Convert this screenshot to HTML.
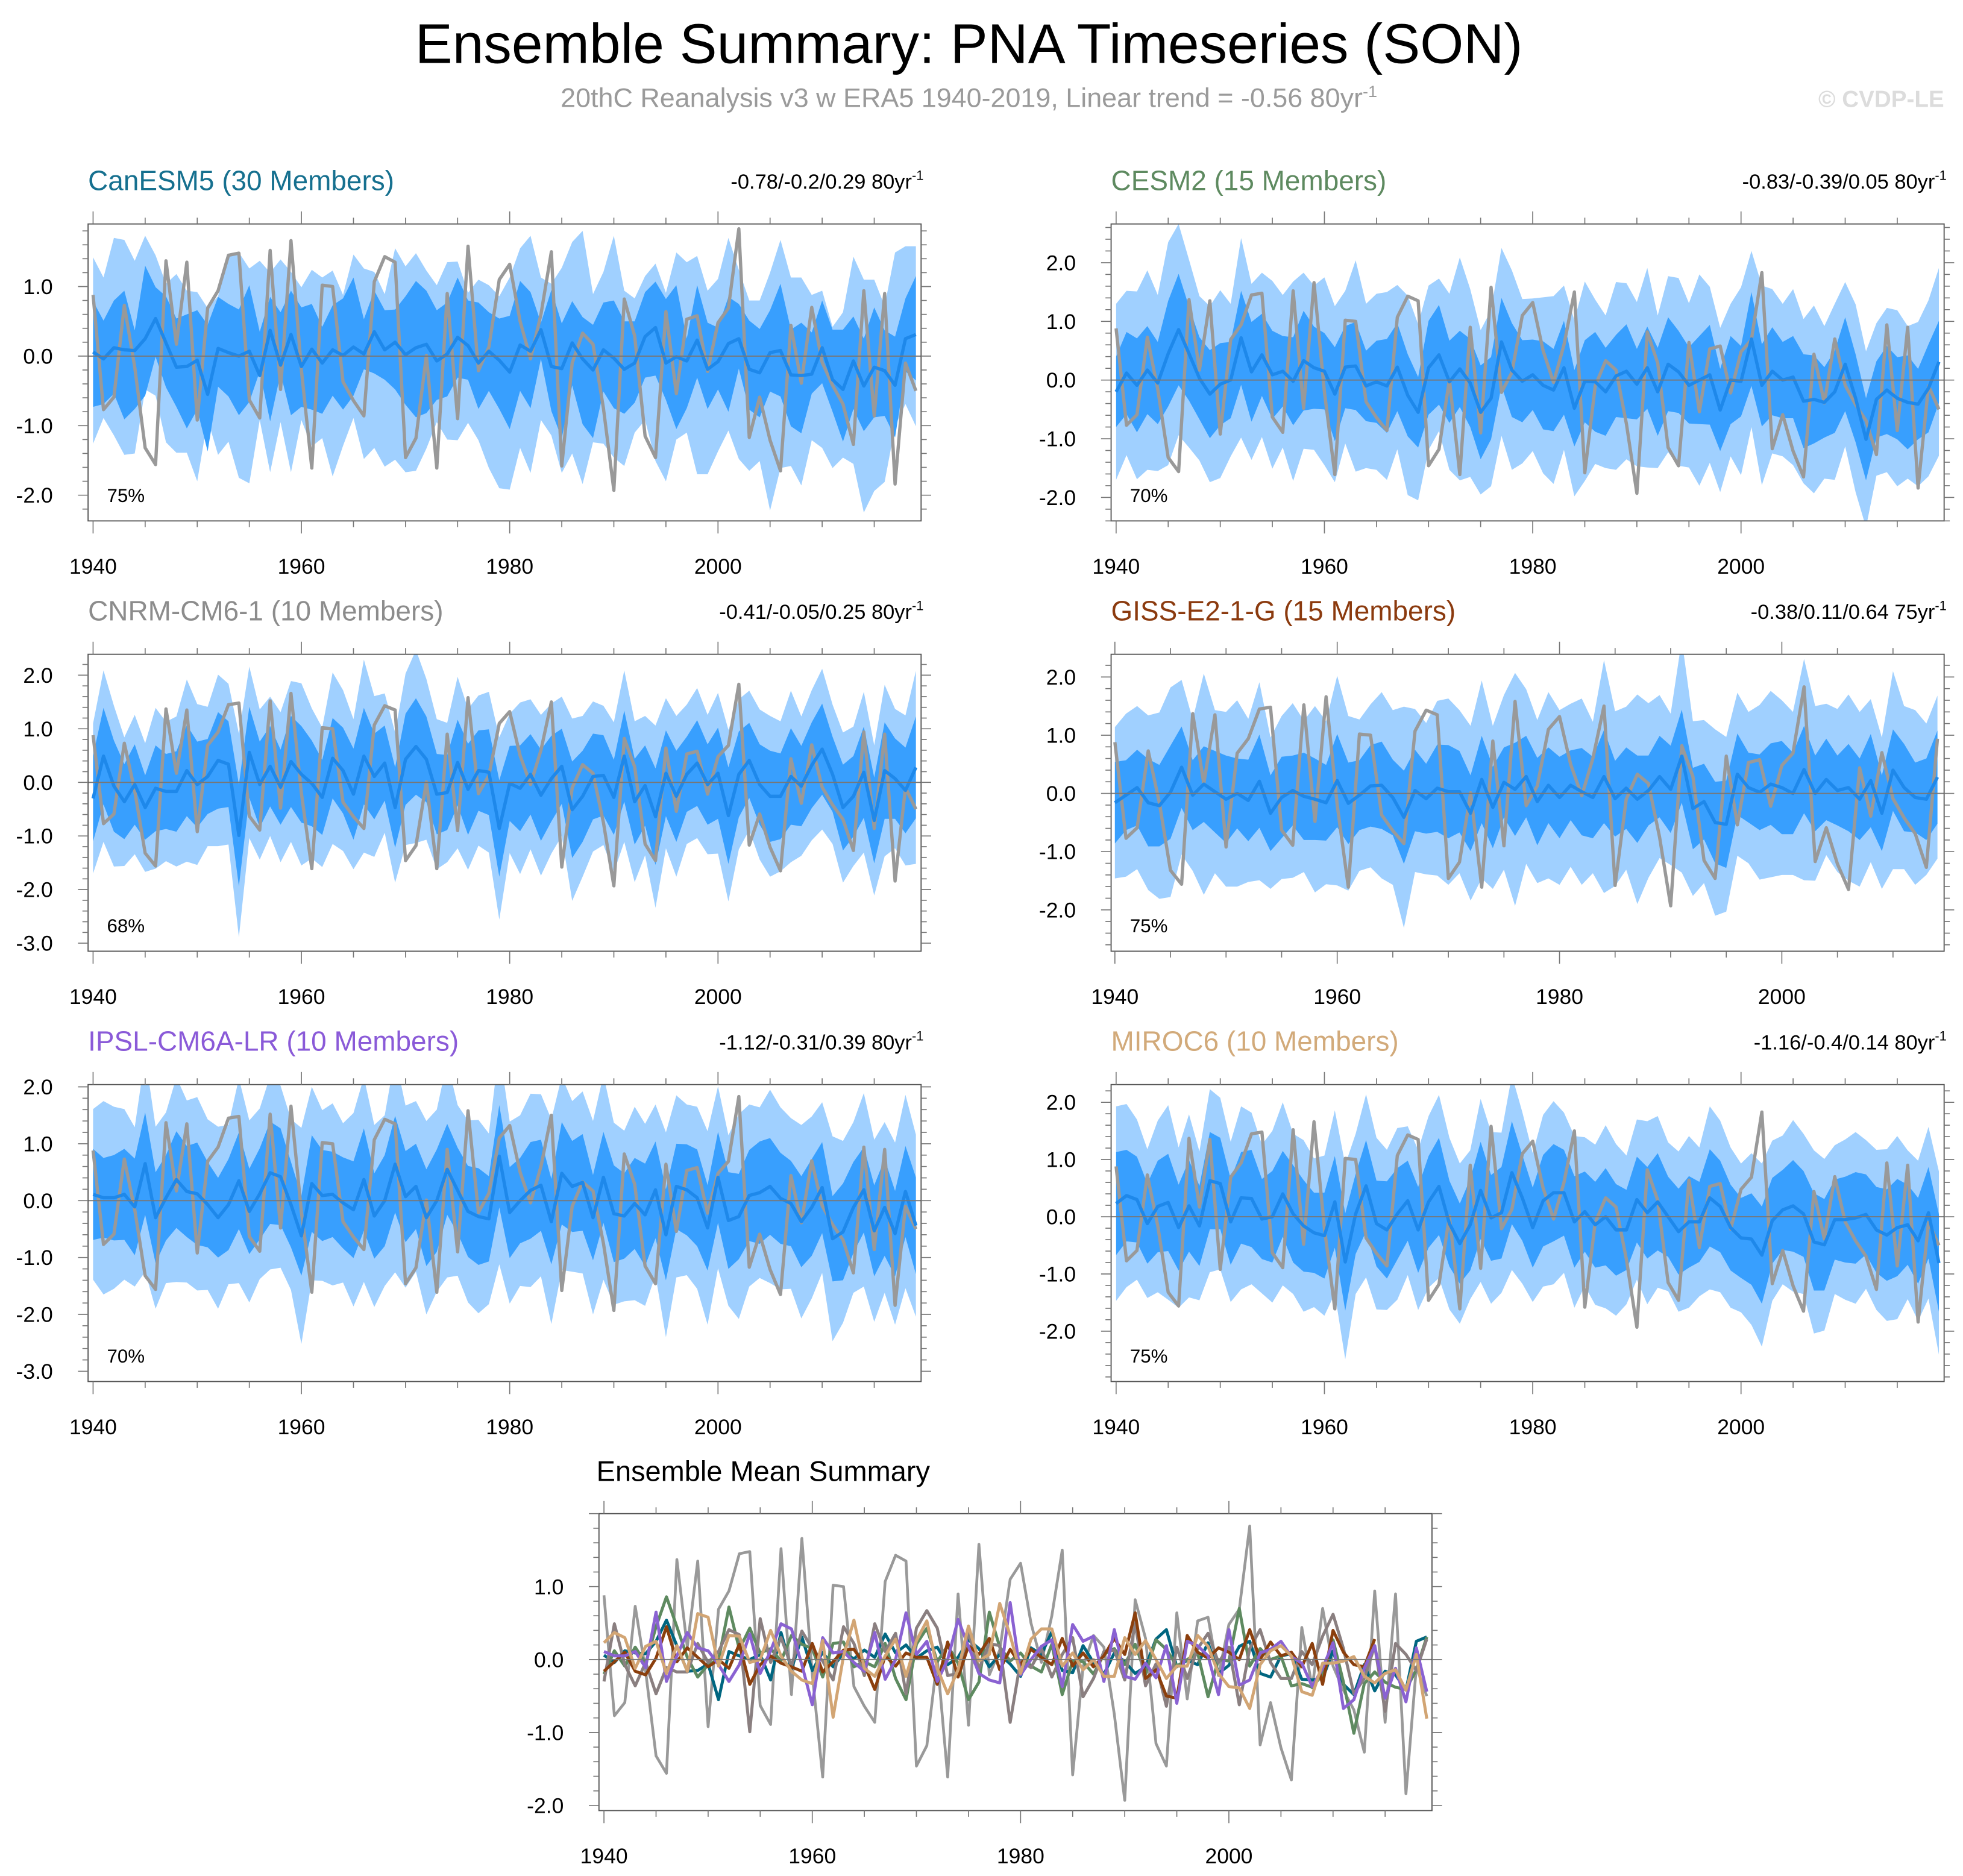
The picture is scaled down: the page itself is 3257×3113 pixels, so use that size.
<!DOCTYPE html>
<html><head><meta charset="utf-8"><title>Ensemble Summary: PNA Timeseries (SON)</title>
<style>
html,body{margin:0;padding:0;background:#fff;}
svg{display:block;font-family:"Liberation Sans",Arial,sans-serif;}
</style></head>
<body>
<svg id="fig" width="3257" height="3113" viewBox="0 0 1560 1491" preserveAspectRatio="none" xmlns="http://www.w3.org/2000/svg">
<rect x="0" y="0" width="1560" height="1491" fill="#fff"/>
<text x="770" y="50" text-anchor="middle" font-size="44.5" fill="#000">Ensemble Summary: PNA Timeseries (SON)</text>
<text x="770" y="85" text-anchor="middle" font-size="21.5" fill="#9a9a9a">20thC Reanalysis v3 w ERA5 1940-2019, Linear trend = -0.56 80yr<tspan dy="-8" font-size="13">-1</tspan></text>
<text x="1545" y="85" text-anchor="end" font-size="18.5" font-weight="bold" fill="#dcdcdc">© CVDP-LE</text>
<g id="panels"></g>
</svg>
<script>
// ---- data ----
const years = [];
for (let y = 1940; y <= 2019; y++) years.push(y);
const obs = [0.88,-0.77,-0.59,0.73,-0.16,-1.32,-1.56,1.37,0.17,1.35,-0.92,0.69,0.94,1.45,1.48,-0.63,-0.89,1.52,-0.48,1.66,-0.2,-1.61,1.02,1.0,-0.37,-0.64,-0.86,1.07,1.43,1.35,-1.46,-1.18,0.01,-1.61,0.9,-0.9,1.58,-0.21,0.13,1.1,1.32,0.5,-0.04,0.6,1.5,-1.58,-0.1,0.33,0.17,-0.75,-1.93,0.82,0.29,-1.15,-1.46,0.64,-0.54,0.53,0.58,-0.22,0.48,0.69,1.83,-1.17,-0.59,-1.21,-1.65,0.44,-0.39,0.7,-0.09,-0.42,-0.69,-1.27,0.94,-0.86,0.9,-1.84,-0.1,-0.5];

const canMean = [0.06,-0.04,0.12,0.09,0.08,0.25,0.54,0.19,-0.16,-0.15,-0.06,-0.55,0.11,0.05,0,0.07,-0.28,0.37,-0.13,0.31,-0.15,0.1,-0.1,0.09,0.01,0.13,0.03,0.35,0.09,0.2,0.02,0.12,0.17,-0.07,0.03,0.27,0.15,-0.1,0.07,-0.06,-0.23,0.16,0.07,0.38,-0.15,-0.18,0.19,-0.04,-0.2,0.09,-0.03,-0.19,-0.1,0.28,0.41,-0.1,-0.01,-0.07,0.23,-0.19,-0.08,0.18,0.25,-0.19,-0.24,0.05,0.08,-0.27,-0.28,-0.26,0.12,-0.34,-0.48,-0.07,-0.43,-0.16,-0.21,-0.42,0.25,0.31];
const canDarkHi = [0.79,0.51,0.8,0.94,0.37,1.3,0.99,0.86,0.54,0.6,0.66,0.45,0.85,0.75,0.67,1.02,0.35,0.85,0.63,0.94,0.7,0.75,0.42,0.73,0.83,1.13,0.53,0.94,0.66,0.67,0.86,1.08,0.94,0.66,0.77,1.13,0.8,0.77,0.63,0.54,0.58,1.08,0.92,0.48,0.95,0.47,0.79,0.56,0.45,0.77,0.8,0.5,0.5,0.92,1.07,0.82,1.02,0.25,1.02,0.48,0.41,0.85,0.75,0.51,0.39,0.66,1.04,0.38,0.48,0.34,0.8,0.38,0.38,0.57,0.25,0.7,0.37,0.28,0.83,1.15];
const canDarkLo = [-0.73,-0.69,-0.54,-0.91,-0.76,-0.57,-0.01,-0.45,-0.73,-1.04,-0.77,-1.37,-0.44,-0.58,-0.85,-0.66,-0.22,-0.94,-0.25,-0.85,-0.73,-0.77,-0.83,-0.57,-0.77,-0.57,-0.19,-0.25,-0.34,-0.48,-0.7,-0.88,-0.82,-0.63,-0.58,-0.31,-0.34,-0.76,-0.5,-0.76,-1.05,-0.5,-0.75,-0.04,-0.79,-1.18,-0.42,-0.98,-1.18,-0.51,-0.75,-0.83,-0.67,-0.31,-0.28,-0.63,-1.05,-0.75,-0.31,-0.76,-0.48,-0.8,-0.18,-0.77,-0.88,-0.51,-0.58,-1.01,-1.11,-0.54,-0.39,-0.8,-1.23,-0.76,-1.08,-0.88,-0.86,-1.17,-0.22,-0.35];
const canLightHi = [1.42,1.13,1.7,1.67,1.37,1.73,1.45,1.04,1.18,0.94,0.92,0.69,0.86,1.45,1.49,1.26,1.37,1.2,1.39,1.21,0.99,1.24,1.13,1.23,0.88,1.46,1.26,1.21,0.89,1.55,1.29,1.48,1.23,1.02,1.35,1.36,0.91,1.1,1.02,0.86,1.13,1.55,1.73,1.13,1.04,1.27,1.64,1.8,0.89,1.21,1.73,0.94,0.83,1.15,1.33,0.91,1.49,1.35,1.44,0.94,1.11,1.7,1.24,0.8,0.8,1.2,1.67,1.13,1.13,0.88,0.94,0.42,0.63,1.43,1.1,1.1,0.72,1.49,1.58,1.58];
const canLightLo = [-1.26,-0.89,-1.14,-1.42,-1.4,-0.48,-0.57,-1.24,-1.39,-1.39,-1.8,-0.91,-1.42,-1.23,-1.75,-1.83,-0.92,-1.67,-0.95,-1.67,-0.92,-1.3,-1.18,-1.73,-1.29,-0.89,-1.48,-1.32,-1.59,-1.49,-1.67,-1.65,-1.33,-0.95,-1.2,-1.21,-0.96,-1.21,-1.61,-1.9,-1.92,-1.32,-1.68,-0.92,-1.14,-1.68,-1.4,-1.84,-1.24,-1.26,-1.46,-1.58,-1.1,-0.92,-1.51,-1.8,-1.2,-1.1,-1.7,-1.7,-1.37,-1.07,-1.48,-1.65,-1.51,-2.22,-1.61,-1.58,-1.86,-1.21,-1.32,-1.61,-1.46,-1.55,-2.25,-1.94,-1.81,-1.01,-0.69,-1.01];

const cesmMean = [-0.2,0.12,-0.09,0.17,-0.05,0.45,0.86,0.45,0.03,-0.24,-0.07,0,0.72,0.14,0.43,0.09,0.15,-0.02,0.33,0.21,0.15,-0.24,0.22,0.24,-0.1,-0.03,-0.1,0.22,-0.26,-0.55,0.21,0.43,-0.03,0.19,-0.05,-0.55,-0.31,0.65,0.17,-0.02,0.09,-0.09,-0.17,0.21,-0.48,-0.02,-0.03,-0.2,0.07,0.15,-0.07,0.21,-0.2,0.27,0.14,-0.09,0,0.09,-0.51,0,-0.02,0.7,-0.09,0.15,0,0.05,-0.36,-0.33,-0.38,-0.2,0.27,-0.31,-1.01,-0.33,-0.17,-0.31,-0.38,-0.41,-0.14,0.31];
const cesmInner = [0.6,0.7,0.8,0.75,0.7,0.9,0.95,0.8,0.7,0.75,0.7,0.65,0.8,0.85,0.7,0.75,0.6,0.75,0.85,0.7,0.65,0.8,0.7,0.75,0.6,0.7,0.8,0.75,0.7,0.6,0.8,0.85,0.7,0.65,0.75,0.8,0.7,0.75,0.8,0.7,0.6,0.75,0.7,0.8,0.65,0.7,0.85,0.75,0.7,0.8,0.6,0.7,0.75,0.8,0.7,0.65,0.75,0.85,0.7,0.75,0.6,0.8,0.7,0.75,0.65,0.7,0.8,0.75,0.6,0.7,0.8,0.75,0.7,0.65,0.75,0.7,0.8,0.6,0.75,0.7];
const cesmOuter = [1.5,1.4,1.6,1.7,1.5,1.9,1.8,1.6,1.4,1.5,1.6,1.3,1.7,1.5,1.4,1.6,1.3,1.7,1.5,1.4,1.6,1.5,1.3,1.8,1.4,1.5,1.6,1.4,1.7,1.5,1.4,1.3,1.5,1.9,1.6,1.4,1.5,1.6,1.7,1.4,1.3,1.5,1.6,1.4,1.5,1.7,1.4,1.3,1.6,1.5,1.4,1.7,1.3,1.5,1.6,1.4,1.8,1.5,1.4,1.3,1.6,1.5,1.7,1.4,1.3,1.5,1.4,1.6,1.3,1.5,1.4,1.6,1.5,1.3,1.4,1.5,1.3,1.4,1.5,1.6];

const cnrmMean = [-0.3,0.49,-0.07,-0.36,-0.04,-0.47,-0.11,-0.17,-0.17,0.22,-0.04,0.11,0.41,0.34,-0.99,0.56,-0.04,0.3,-0.09,0.39,0.15,-0.02,-0.28,0.45,0.22,-0.22,0.49,0.11,0.36,-0.47,0.43,0.67,0.43,-0.22,-0.19,0.37,-0.13,0.22,0.19,-0.86,-0.02,-0.11,0.15,-0.24,0.07,0.3,-0.51,-0.26,0.11,0.13,-0.28,0.49,-0.36,-0.06,-0.64,0.17,-0.26,0.15,0.36,-0.04,0.17,-0.62,0.15,0.41,-0.04,-0.26,-0.26,0.11,-0.07,0.32,0.62,0.15,-0.47,-0.26,0.19,-0.71,0.22,0.07,-0.15,0.28];
const cnrmInner = [0.8,0.9,0.85,0.7,0.75,0.6,0.8,0.7,0.75,0.85,0.8,0.7,0.9,0.8,0.95,0.85,0.8,0.75,0.7,0.85,0.9,0.8,0.7,0.75,0.8,0.85,0.9,0.8,0.7,0.75,0.85,0.9,0.8,0.75,0.7,0.8,0.85,0.75,0.8,0.9,0.7,0.8,0.75,0.85,0.8,0.7,0.9,0.85,0.8,0.75,0.7,0.85,0.8,0.75,0.9,0.8,0.85,0.7,0.8,0.75,0.85,0.9,0.8,0.7,0.75,0.85,0.8,0.9,0.75,0.8,0.85,0.7,0.8,0.75,0.85,0.8,0.9,0.75,0.8,0.95];
const cnrmOuter = [1.4,1.6,1.5,1.2,1.3,1.2,1.5,1.3,1.4,1.7,1.5,1.3,1.6,1.5,1.9,1.6,1.4,1.3,1.4,1.5,1.7,1.4,1.3,1.6,1.5,1.4,1.8,1.5,1.3,1.4,1.6,1.8,1.5,1.4,1.3,1.6,1.5,1.4,1.5,1.7,1.3,1.6,1.4,1.5,1.4,1.3,1.7,1.5,1.4,1.3,1.4,1.6,1.5,1.3,1.7,1.4,1.5,1.3,1.4,1.3,1.5,1.6,1.4,1.3,1.4,1.5,1.4,1.6,1.3,1.4,1.5,1.3,1.4,1.3,1.5,1.4,1.6,1.3,1.4,1.8];

const gissMean = [-0.16,-0.03,0.1,-0.16,-0.21,0.02,0.45,-0.03,0.16,0.03,-0.1,0,-0.12,0.21,-0.34,-0.07,0.05,-0.05,-0.1,-0.16,0.22,-0.17,-0.03,0.13,0.14,-0.07,-0.41,0.05,-0.09,0.09,0.03,0.03,-0.34,0.24,-0.24,0.19,0.07,0.29,-0.14,0.14,-0.07,0.14,0.03,-0.07,0.29,-0.09,0.09,-0.1,0.05,0.29,0.07,0.64,-0.26,-0.14,-0.5,-0.53,0.33,0.1,0.02,0.16,0.1,0,0.41,0,0.24,0.05,0.1,-0.1,0.22,-0.34,0.4,0.1,-0.07,-0.1,0.28];
const gissInner = [0.7,0.6,0.65,0.75,0.7,0.8,0.7,0.6,0.65,0.7,0.75,0.6,0.7,0.8,0.65,0.7,0.6,0.75,0.7,0.65,0.8,0.7,0.6,0.7,0.75,0.65,0.8,0.7,0.6,0.75,0.8,0.7,0.65,0.75,0.7,0.6,0.8,0.7,0.75,0.65,0.7,0.6,0.75,0.7,0.8,0.65,0.7,0.75,0.6,0.7,0.75,0.8,0.7,0.65,0.7,0.75,0.7,0.6,0.65,0.7,0.8,0.7,0.75,0.65,0.7,0.6,0.75,0.7,0.8,0.65,0.7,0.75,0.6,0.7,0.8];
const gissOuter = [1.3,1.4,1.4,1.5,1.6,1.8,1.5,1.3,1.9,1.4,1.5,1.6,1.4,1.7,1.3,1.4,1.5,1.3,1.6,1.4,1.8,1.5,1.3,1.4,1.6,1.5,1.9,1.4,1.3,1.5,1.6,1.4,1.5,1.7,1.4,1.5,2.0,1.5,1.4,1.6,1.5,1.4,1.6,1.3,2.0,1.5,1.4,1.8,1.5,1.4,1.3,2.0,1.5,1.4,1.6,1.5,1.4,1.3,1.5,1.6,1.5,1.4,1.9,1.5,1.3,1.4,1.6,1.5,1.4,1.3,1.7,1.4,1.5,1.3,1.4];

const ipslMean = [0.11,0.05,0.05,0.11,-0.11,0.65,-0.3,0.05,0.37,0.16,0.12,-0.07,-0.3,-0.07,0.35,-0.19,0.12,0.49,0.42,-0.07,-0.62,0.3,0.09,0.11,-0.04,-0.16,0.37,-0.27,0,0.64,0.07,0.25,-0.3,0,0.55,0.18,-0.19,-0.28,-0.32,0.78,-0.21,0,0.18,0.27,-0.37,0.48,0.25,0.32,-0.3,0.41,-0.23,-0.27,-0.05,-0.25,0.19,-0.6,0.25,0.19,0.05,-0.48,0.41,-0.35,-0.28,0.09,0.14,0.25,0.04,-0.05,-0.37,-0.12,0.23,-0.67,-0.55,-0.12,0.19,-0.53,-0.12,-0.58,0.16,-0.44];
const ipslInner = [0.8,0.7,0.75,0.8,0.85,0.9,0.8,0.75,0.85,0.8,0.9,0.75,0.7,0.8,0.85,0.75,0.8,0.9,0.85,0.75,0.7,0.85,0.8,0.75,0.8,0.85,0.9,0.75,0.8,0.85,0.8,0.75,0.85,0.9,0.8,0.75,0.8,0.85,0.75,0.9,0.8,0.75,0.85,0.8,0.75,0.9,0.8,0.85,0.75,0.8,0.85,0.75,0.8,0.9,0.85,0.8,0.75,0.8,0.85,0.75,0.8,0.85,0.75,0.8,0.9,0.85,0.8,0.75,0.8,0.85,0.8,0.75,0.85,0.8,0.75,0.8,0.85,0.75,0.8,0.85];
const ipslOuter = [1.5,1.7,1.6,1.5,1.4,1.9,1.6,1.5,1.8,1.6,1.7,1.5,1.6,1.4,1.8,1.6,1.5,1.7,1.6,1.5,1.9,1.7,1.5,1.6,1.4,1.7,1.8,1.6,1.5,1.9,1.6,1.5,1.7,1.6,1.9,1.5,1.6,1.7,1.5,1.9,1.6,1.5,1.7,1.6,1.8,1.7,1.5,1.6,1.7,1.8,1.6,1.5,1.7,1.6,1.5,1.8,1.6,1.5,1.6,1.7,1.6,1.5,1.8,1.6,1.5,1.7,1.6,1.5,1.7,1.6,1.5,1.8,1.6,1.5,1.7,1.6,1.5,1.6,1.7,1.6];

const mirocMean = [0.23,0.37,0.3,-0.12,0.18,0.25,-0.19,0.19,-0.16,0.63,0.58,-0.09,0.33,0.32,-0.04,0,0.4,0.05,-0.16,-0.28,-0.33,0.26,-0.79,0.05,0.54,-0.12,-0.23,0.05,0.28,-0.23,0.26,0.53,-0.12,-0.47,-0.14,0.46,-0.02,0.07,0.77,0.33,-0.19,0.28,0.42,0.42,-0.09,0.09,-0.14,0,-0.23,-0.23,0.3,0.07,0.26,0,-0.26,-0.09,-0.09,0.33,0.18,-0.19,-0.37,-0.39,-0.67,-0.07,0.12,0.19,0.05,-0.44,-0.49,-0.05,-0.05,-0.02,0.04,-0.23,-0.32,-0.19,-0.14,-0.42,0.07,-0.81];
const mirocInner = [0.9,0.8,0.75,0.7,0.8,0.85,0.75,0.8,0.7,0.85,0.8,0.75,0.8,0.85,0.7,0.8,0.75,0.85,0.8,0.7,0.75,0.8,0.85,0.7,0.8,0.75,0.85,0.8,0.7,0.75,0.8,0.85,0.75,0.7,0.8,0.85,0.75,0.8,0.9,0.75,0.7,0.8,0.85,0.75,0.8,0.7,0.75,0.85,0.8,0.7,0.75,0.8,0.85,0.7,0.75,0.8,0.7,0.85,0.8,0.75,0.7,0.8,0.85,0.75,0.7,0.8,0.75,0.85,0.8,0.7,0.75,0.8,0.7,0.75,0.8,0.85,0.7,0.75,0.8,0.85];
const mirocOuter = [1.7,1.6,1.4,1.3,1.5,1.7,1.4,1.6,1.3,1.6,1.5,1.4,1.6,1.5,1.3,1.5,1.6,1.4,1.5,1.3,1.4,1.6,1.7,1.4,1.6,1.5,1.4,1.5,1.3,1.4,1.5,1.6,1.5,1.4,1.3,1.6,1.5,1.4,1.7,1.5,1.3,1.5,1.6,1.4,1.5,1.3,1.4,1.6,1.5,1.3,1.4,1.6,1.5,1.3,1.4,1.5,1.3,1.6,1.5,1.4,1.3,1.5,1.6,1.4,1.3,1.5,1.4,1.6,1.5,1.3,1.4,1.5,1.3,1.4,1.5,1.6,1.3,1.4,1.5,1.6];

const yLabels1 = [1.0,0.0,-1.0,-2.0];
const yLabels2 = [2.0,1.0,0.0,-1.0,-2.0];
const yLabels3 = [2.0,1.0,0.0,-1.0,-2.0,-3.0];
const xLabels = [1940,1960,1980,2000];

const panels = [
 {key:'canesm5',x0:70,y0:178,xmin:1939.52,xmax:2019.5,ymin:-2.37,ymax:1.9,yl:yLabels1,title:'CanESM5 (30 Members)',tc:'#16708f',lc:'#006680',trend:'-0.78/-0.2/0.29 80yr',pct:'75%',mean:canMean,dHi:canDarkHi,dLo:canDarkLo,lHi:canLightHi,lLo:canLightLo},
 {key:'cesm2',x0:883,y0:178,xmin:1939.52,xmax:2019.5,ymin:-2.4,ymax:2.66,yl:yLabels2,title:'CESM2 (15 Members)',tc:'#5e8a60',lc:'#5e8a60',trend:'-0.83/-0.39/0.05 80yr',pct:'70%',mean:cesmMean,inner:cesmInner,outer:cesmOuter},
 {key:'cnrm-cm6-1',x0:70,y0:520,xmin:1939.52,xmax:2019.5,ymin:-3.15,ymax:2.39,yl:yLabels3,title:'CNRM-CM6-1 (10 Members)',tc:'#8c8c8c',lc:'#8a7f80',trend:'-0.41/-0.05/0.25 80yr',pct:'68%',mean:cnrmMean,inner:cnrmInner,outer:cnrmOuter},
 {key:'giss-e2-1-g',x0:883,y0:520,xmin:1939.66,xmax:2014.6,ymin:-2.71,ymax:2.39,yl:yLabels2,title:'GISS-E2-1-G (15 Members)',tc:'#8b3a0e',lc:'#8b3f0d',trend:'-0.38/0.11/0.64 75yr',pct:'75%',mean:gissMean,inner:gissInner,outer:gissOuter},
 {key:'ipsl-cm6a-lr',x0:70,y0:862,xmin:1939.52,xmax:2019.5,ymin:-3.18,ymax:2.04,yl:yLabels3,title:'IPSL-CM6A-LR (10 Members)',tc:'#8a5ad8',lc:'#8a62d2',trend:'-1.12/-0.31/0.39 80yr',pct:'70%',mean:ipslMean,inner:ipslInner,outer:ipslOuter},
 {key:'miroc6',x0:883,y0:862,xmin:1939.52,xmax:2019.5,ymin:-2.88,ymax:2.31,yl:yLabels2,title:'MIROC6 (10 Members)',tc:'#d2aa7a',lc:'#d2a574',trend:'-1.16/-0.4/0.14 80yr',pct:'75%',mean:mirocMean,inner:mirocInner,outer:mirocOuter}
];
const W = 662, H = 236;
const NS = 'http://www.w3.org/2000/svg';
const root = document.getElementById('panels');

function mk(tag, attrs, parent){
  const e = document.createElementNS(NS, tag);
  for (const k in attrs) e.setAttribute(k, attrs[k]);
  (parent || root).appendChild(e);
  return e;
}
function fmt(v){ return v.toFixed(1); }

function drawAxes(g, x0, y0, xmin, xmax, ymin, ymax, yl, sx, sy){
  const z = mk('line', {x1:x0, x2:x0+W, y1:sy(0), y2:sy(0), stroke:'#777', 'stroke-width':0.9}, g);
  
  
  const box = mk('rect', {x:x0, y:y0, width:W, height:H, fill:'none', stroke:'#555', 'stroke-width':0.9}, g);
  
  
  const start = Math.ceil(ymin*5-1e-6), end = Math.floor(ymax*5+1e-6);
  for (let k = start; k <= end; k++){
    const v = k/5, yy = sy(v), major = (k % 5 === 0), L = major ? 8 : 4.5;
    mk('line', {x1:x0-L, x2:x0, y1:yy, y2:yy, stroke:'#777', 'stroke-width':0.8}, g);
    mk('line', {x1:x0+W, x2:x0+W+L, y1:yy, y2:yy, stroke:'#777', 'stroke-width':0.8}, g);
  }
  yl.forEach(v => {
    const t = mk('text', {x:x0-28, y:sy(v)+6, 'text-anchor':'end', 'font-size':17, fill:'#000'}, g);
    t.textContent = fmt(v);
    
    
  });
  for (let yr = 1940; yr <= xmax; yr += 5){
    const xx = x0 + (yr - xmin)/(xmax - xmin)*W, major = ((yr-1940) % 20 === 0), L = major ? 10 : 5;
    mk('line', {x1:xx, x2:xx, y1:y0+H, y2:y0+H+L, stroke:'#777', 'stroke-width':0.8}, g);
    mk('line', {x1:xx, x2:xx, y1:y0-L, y2:y0, stroke:'#777', 'stroke-width':0.8}, g);
  }
  xLabels.forEach(yr => {
    const t = mk('text', {x:x0 + (yr - xmin)/(xmax - xmin)*W, y:y0+H+42, 'text-anchor':'middle', 'font-size':17, fill:'#000'}, g);
    t.textContent = String(yr);
    
    
  });
}

function linePath(arr, sx, sy){
  return arr.map((v,i) => (i?'L':'M') + sx(years[i]).toFixed(2) + ' ' + sy(v).toFixed(2)).join(' ');
}
function bandPath(hi, lo, sx, sy){
  let d = hi.map((v,i) => (i?'L':'M') + sx(years[i]).toFixed(2) + ' ' + sy(v).toFixed(2)).join(' ');
  for (let i = lo.length-1; i >= 0; i--) d += ' L' + sx(years[i]).toFixed(2) + ' ' + sy(lo[i]).toFixed(2);
  return d + ' Z';
}

panels.forEach((p, pi) => {
  const g = mk('g', {});
  
  
  const sx = yr => p.x0 + (yr - p.xmin)/(p.xmax - p.xmin)*W;
  const sy = v => p.y0 + (p.ymax - v)/(p.ymax - p.ymin)*H;
  const cid = 'clip' + pi;
  const cp = mk('clipPath', {id:cid}, g);
  mk('rect', {x:p.x0, y:p.y0, width:W, height:H}, cp);
  const n = p.mean.length;
  let dHi, dLo, lHi, lLo;
  if (p.dHi){ dHi = p.dHi; dLo = p.dLo; lHi = p.lHi; lLo = p.lLo; }
  else {
    dHi = p.mean.map((m,i) => m + p.inner[i]); dLo = p.mean.map((m,i) => m - p.inner[i]);
    lHi = p.mean.map((m,i) => m + p.outer[i]); lLo = p.mean.map((m,i) => m - p.outer[i]);
  }
  const cg = mk('g', {'clip-path':'url(#'+cid+')'}, g);
  const lb = mk('path', {d:bandPath(lHi, lLo, sx, sy), fill:'#a0d0ff', stroke:'none'}, cg);
  
  
  const db = mk('path', {d:bandPath(dHi, dLo, sx, sy), fill:'#389ffe', stroke:'none'}, cg);
  
  
  const ob = mk('path', {d:linePath(obs.slice(0, n), sx, sy), fill:'none', stroke:'#999', 'stroke-width':2.6, 'stroke-linejoin':'round'}, cg);
  
  
  const ml = mk('path', {d:linePath(p.mean, sx, sy), fill:'none', stroke:'#1e88ea', 'stroke-width':2.6, 'stroke-linejoin':'round'}, cg);
  
  
  drawAxes(g, p.x0, p.y0, p.xmin, p.xmax, p.ymin, p.ymax, p.yl, sx, sy);
  const t = mk('text', {x:p.x0, y:p.y0-27, 'font-size':22, fill:p.tc}, g);
  t.textContent = p.title;
  
  
  const tr = mk('text', {x:p.x0+W+2, y:p.y0-28, 'text-anchor':'end', 'font-size':16.5, fill:'#000'}, g);
  tr.textContent = p.trend;
  const sup = mk('tspan', {dy:-7, 'font-size':10.5}, tr);
  sup.textContent = '-1';
  
  
  const pc = mk('text', {x:p.x0+15, y:p.y0+H-15, 'font-size':15, fill:'#000'}, g);
  pc.textContent = p.pct;
  
  
});

// ---- ensemble mean summary panel ----
(function(){
  const x0 = 476, y0 = 1203, xmin = 1939.52, xmax = 2019.5, ymin = -2.07, ymax = 2.0;
  const g = mk('g', {});
  
  
  const sx = yr => x0 + (yr - xmin)/(xmax - xmin)*W;
  const sy = v => y0 + (ymax - v)/(ymax - ymin)*H;
  const cp = mk('clipPath', {id:'clipB'}, g);
  mk('rect', {x:x0, y:y0, width:W, height:H}, cp);
  const cg = mk('g', {'clip-path':'url(#clipB)'}, g);
  const ob = mk('path', {d:linePath(obs, sx, sy), fill:'none', stroke:'#999', 'stroke-width':2.2, 'stroke-linejoin':'round'}, cg);
  
  
  panels.forEach(p => {
    const l = mk('path', {d:linePath(p.mean, sx, sy), fill:'none', stroke:p.lc, 'stroke-width':2.4, 'stroke-linejoin':'round'}, cg);
    
    
  });
  drawAxes(g, x0, y0, xmin, xmax, ymin, ymax, yLabels1, sx, sy);
  const t = mk('text', {x:474, y:1177, 'font-size':22.5, fill:'#000'}, g);
  t.textContent = 'Ensemble Mean Summary';
  
  
})();
</script>
</body></html>
